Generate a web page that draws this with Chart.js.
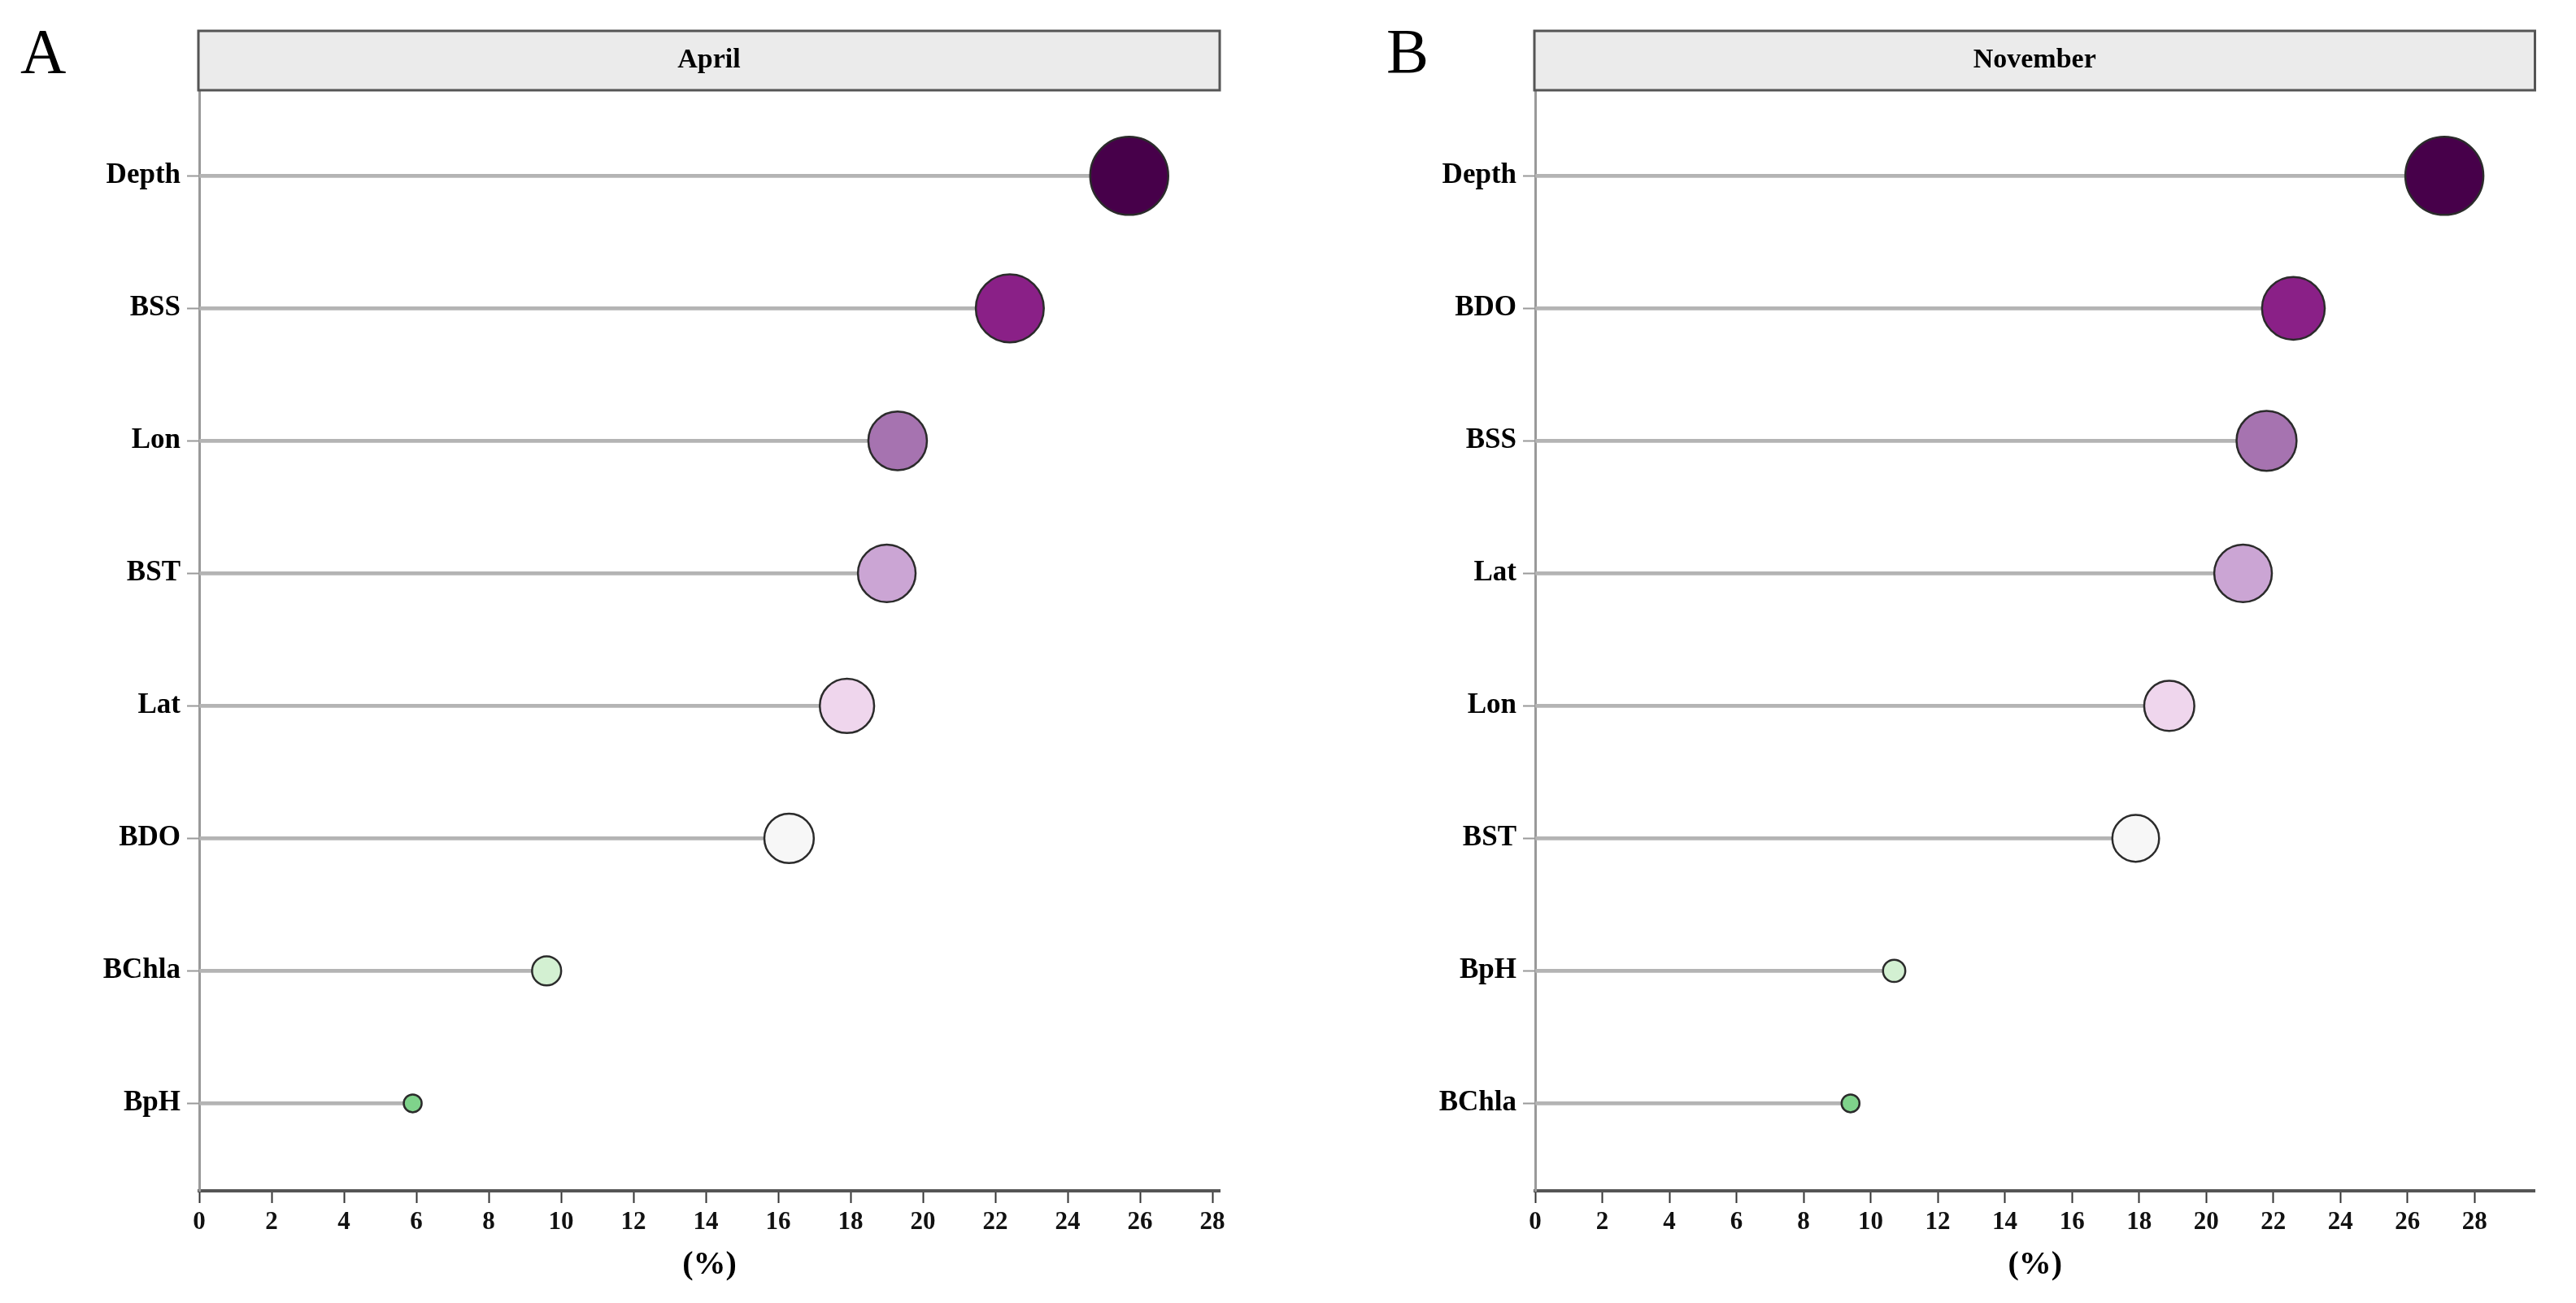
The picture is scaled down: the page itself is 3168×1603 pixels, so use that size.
<!DOCTYPE html>
<html>
<head>
<meta charset="utf-8">
<script src="https://cdn.jsdelivr.net/npm/chart.js@4/dist/chart.umd.min.js"></script>
<style>
  html, body { margin: 0; padding: 0; background: #fff; }
  #wrap { position: relative; width: 3168px; height: 1603px; }
  canvas { position: absolute; top: 0; }
</style>
</head>
<body>
<div id="wrap">
  <canvas id="cA" width="1584" height="1603" style="left:0"></canvas>
  <canvas id="cB" width="1584" height="1603" style="left:1584px"></canvas>
</div>
<script>
// ---- data (top to bottom) ----
const aprilLabels = ['Depth', 'BSS', 'Lon', 'BST', 'Lat', 'BDO', 'BChla', 'BpH'];
const aprilValues = [25.7, 22.4, 19.3, 19.0, 17.9, 16.3, 9.6, 5.9];

const novLabels = ['Depth', 'BDO', 'BSS', 'Lat', 'Lon', 'BST', 'BpH', 'BChla'];
const novValues = [27.1, 22.6, 21.8, 21.1, 18.9, 17.9, 10.7, 9.4];

const xTicks = [0, 2, 4, 6, 8, 10, 12, 14, 16, 18, 20, 22, 24, 26, 28];

// fill colours by rank, dark purple -> green
const palette = ['#47004a', '#8a2087', '#a673b0', '#cba5d4', '#efd6ed', '#f7f7f7', '#d3f0d2', '#7fd38b'];

const FONT = '"Liberation Serif", "Times New Roman", serif';

// circle radius grows with value (size scale, like a ggplot size range)
function sizeScale(vals, rMin, rMax) {
  const lo = Math.min(...vals), hi = Math.max(...vals);
  return v => rMin + (v - lo) / (hi - lo) * (rMax - rMin);
}

// strip header + panel letter drawn in the top padding
const stripPlugin = {
  id: 'strip',
  afterDraw(chart, args, opts) {
    const { ctx, chartArea } = chart;
    const x0 = chartArea.left - 1, x1 = chartArea.right;
    const y0 = 38, y1 = 111;
    ctx.save();
    ctx.fillStyle = '#ebebeb';
    ctx.fillRect(x0, y0, x1 - x0, y1 - y0);
    ctx.strokeStyle = '#555';
    ctx.lineWidth = 3;
    ctx.strokeRect(x0, y0, x1 - x0, y1 - y0);
    ctx.fillStyle = '#000';
    ctx.font = 'bold 34px ' + FONT;
    ctx.textAlign = 'center';
    ctx.textBaseline = 'middle';
    ctx.fillText(opts.title, (x0 + x1) / 2, (y0 + y1) / 2);
    ctx.font = '78px ' + FONT;
    ctx.textAlign = 'left';
    ctx.textBaseline = 'alphabetic';
    ctx.fillText(opts.letter, opts.letterX, 89);
    ctx.restore();
  }
};

function makePanel(id, title, letter, letterX, labels, values, xMax, yWidth, padRight) {
  const r = sizeScale(values, 11, 48);
  const idx = values.map((v, i) => i);
  return new Chart(document.getElementById(id), {
    data: {
      datasets: [
        {
          type: 'bubble',
          order: 0,
          data: values.map((v, i) => ({ x: v, y: idx[i], r: r(v) })),
          backgroundColor: palette,
          borderColor: '#2b2b2b',
          borderWidth: 2.5,
          clip: false
        },
        {
          type: 'bar',
          order: 1,
          indexAxis: 'y',
          data: values.map((v, i) => ({ x: v, y: idx[i] })),
          backgroundColor: '#b4b4b4',
          barThickness: 4
        }
      ]
    },
    options: {
      responsive: false,
      devicePixelRatio: 1,
      animation: false,
      layout: { padding: { left: 0, right: padRight, top: 112, bottom: 0 } },
      plugins: {
        legend: { display: false },
        tooltip: { enabled: false },
        strip: { title: title, letter: letter, letterX: letterX }
      },
      scales: {
        x: {
          type: 'linear',
          min: 0,
          max: xMax,
          offset: false,
          afterFit: s => { s.height = 138; },
          afterBuildTicks: s => { s.ticks = xTicks.map(v => ({ value: v })); },
          ticks: {
            font: { family: FONT, size: 31, weight: 'bold' },
            color: '#111',
            padding: 5,
            maxRotation: 0,
            autoSkip: false
          },
          grid: { offset: false, drawOnChartArea: false, drawTicks: true, tickLength: 15, tickColor: '#333', tickWidth: 2 },
          border: { color: '#555', width: 4 },
          title: {
            display: true,
            text: '(%)',
            font: { family: FONT, size: 40, weight: 'bold' },
            color: '#000',
            padding: { top: 0, bottom: 22 }
          }
        },
        y: {
          type: 'linear',
          reverse: true,
          min: -0.64,
          max: 7.66,
          offset: false,
          afterFit: s => { s.width = yWidth; },
          afterBuildTicks: s => { s.ticks = idx.map(v => ({ value: v })); },
          ticks: {
            font: { family: FONT, size: 35, weight: 'bold' },
            color: '#000',
            padding: 8,
            autoSkip: false,
            callback: v => labels[v] ?? ''
          },
          grid: { offset: false, drawOnChartArea: false, drawTicks: true, tickLength: 15, tickColor: '#999', tickWidth: 2 },
          border: { color: '#999', width: 3 }
        }
      }
    },
    plugins: [stripPlugin]
  });
}

makePanel('cA', 'April', 'A', 25, aprilLabels, aprilValues, 28.2, 245, 84);
makePanel('cB', 'November', 'B', 1705 - 1584, novLabels, novValues, 29.8, 304, 36);
</script>
</body>
</html>
